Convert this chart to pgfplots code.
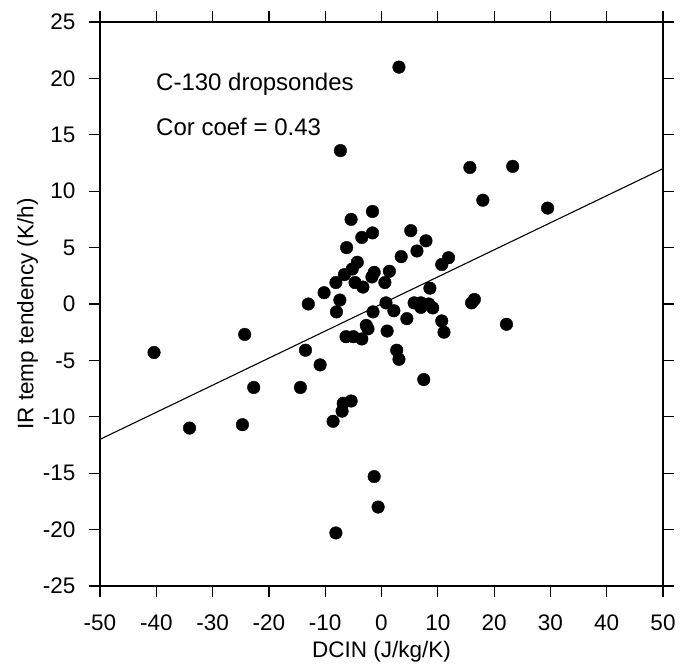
\documentclass[border=0pt]{standalone}
\usepackage{fontspec}
\setmainfont{Liberation Sans}
\usepackage{pgfplots}
\usetikzlibrary{calc}
\pgfplotsset{compat=1.18}
\begin{document}
\begin{tikzpicture}
\begin{axis}[
  scale only axis,
  width=563pt, height=564pt,
  xmin=-50, xmax=50, ymin=-25, ymax=25,
  xtick={-50,-40,...,50}, ytick={-25,-20,...,25},
  tick align=outside,
  tick pos=both,
  major tick length=11pt,
  axis line style={line width=1.2pt},
  tick style={black, line width=1.2pt},
  /pgf/number format/assume math mode=true,
  tick label style={font=\fontsize{22.5}{26}\selectfont},
  label style={font=\fontsize{22.5}{26}\selectfont},
  xticklabel style={yshift=-14pt},
  yticklabel style={xshift=-10pt},
  xlabel={DCIN (J/kg/K)},
  ylabel={IR temp tendency (K/h)},
  xlabel style={yshift=-4pt},
  ylabel style={yshift=-2pt, xshift=-10pt},
  clip=false,
]
\coordinate (ll) at (rel axis cs:0,0);
\coordinate (ur) at (rel axis cs:1,1);
\addplot[only marks, mark=*, mark size=6.3pt, black] coordinates {
(3.1,21.0) (-7.3,13.6) (15.7,12.1) (23.3,12.2) (18.0,9.2) (29.5,8.5)
(-1.6,8.2) (-5.4,7.5) (5.2,6.5) (-1.6,6.3) (-3.5,5.9) (7.9,5.6)
(-6.2,5.0) (6.3,4.7) (3.5,4.2) (11.9,4.1) (10.7,3.5) (-4.3,3.7)
(-5.2,3.1) (-6.6,2.6) (-1.3,2.8) (-1.7,2.4) (1.4,2.9) (-8.1,1.9)
(-4.7,1.9) (-3.3,1.5) (0.6,1.9) (8.6,1.4) (-10.2,1.0) (-7.4,0.35)
(-13.0,0.0) (0.8,0.1) (2.2,-0.6) (4.5,-1.3) (1.0,-2.4) (2.7,-4.1)
(3.1,-4.9) (7.5,-6.7) (5.8,0.1) (7.0,0.1) (7.0,-0.3) (8.4,0.0)
(9.1,-0.35) (10.7,-1.5) (11.1,-2.5) (16.0,0.1) (16.5,0.4) (22.2,-1.8)
(-40.4,-4.3) (-34.1,-11.0) (-24.3,-2.7) (-24.7,-10.7) (-22.7,-7.4) (-14.4,-7.4)
(-13.5,-4.1) (-10.9,-5.4) (-8.0,-0.7) (-1.5,-0.7) (-2.7,-1.9) (-2.4,-2.2)
(-6.3,-2.9) (-5.0,-2.9) (-3.5,-3.1) (-6.8,-8.8) (-5.4,-8.6) (-7.0,-9.5)
(-8.6,-10.4) (-1.3,-15.3) (-0.6,-18.0) (-8.1,-20.3)
};
\addplot[black, line width=1.1pt] coordinates {(-50,-12) (50,12)};
\node[anchor=base west, inner sep=0pt, font=\fontsize{24}{28}\selectfont] at (axis cs:-40.05,18.97) {C-130 dropsondes};
\node[anchor=base west, inner sep=0pt, font=\fontsize{24}{28}\selectfont] at (axis cs:-40.05,14.98) {Cor coef = 0.43};
\end{axis}
\pgfresetboundingbox
\path ($(ll)+(-100pt,-78pt)$) rectangle ($(ur)+(17pt,22pt)$);
\end{tikzpicture}
\end{document}
